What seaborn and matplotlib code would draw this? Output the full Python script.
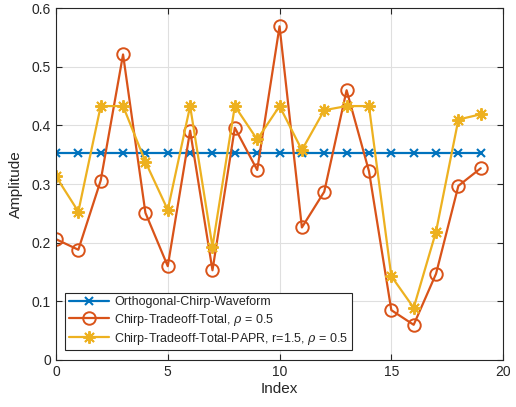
import numpy as np
import matplotlib
matplotlib.use("Agg")
import matplotlib.pyplot as plt
import seaborn as sns

index = list(range(20))
orthogonal = [0.3536] * 20
tradeoff = [0.206, 0.188, 0.306, 0.521, 0.251, 0.160, 0.391, 0.153, 0.396, 0.324,
            0.569, 0.226, 0.287, 0.460, 0.322, 0.085, 0.060, 0.147, 0.297, 0.327]
tradeoff_papr = [0.313, 0.253, 0.433, 0.433, 0.338, 0.256, 0.433, 0.193, 0.433, 0.376,
                 0.433, 0.358, 0.426, 0.433, 0.433, 0.143, 0.089, 0.219, 0.410, 0.419]
labels = ["Orthogonal-Chirp-Waveform",
          r"Chirp-Tradeoff-Total, $\rho$ = 0.5",
          r"Chirp-Tradeoff-Total-PAPR, r=1.5, $\rho$ = 0.5"]
xticks = [0, 5, 10, 15, 20]
yticks = [0, 0.1, 0.2, 0.3, 0.4, 0.5, 0.6]

sns.set_style("ticks")
plt.rcParams['font.family'] = ['Liberation Sans', 'DejaVu Sans']
plt.rcParams['mathtext.fontset'] = 'dejavuserif'

fig = plt.figure(figsize=(5.16, 4.07), dpi=100)
ax = fig.add_axes([0.1085, 0.1155, 0.975 - 0.1085, 0.980 - 0.1155])

blue, red, yellow = "#0072BD", "#D95319", "#EDB120"
sns.lineplot(x=index, y=orthogonal, ax=ax, color=blue, marker="x", markersize=6,
             markeredgecolor=blue, markeredgewidth=1.5, linewidth=1.6, label=labels[0])
sns.lineplot(x=index, y=tradeoff, ax=ax, color=red, marker="o", markersize=9,
             markerfacecolor="none", markeredgecolor=red, markeredgewidth=1.4,
             linewidth=1.6, label=labels[1])
sns.lineplot(x=index, y=tradeoff_papr, ax=ax, color=yellow, marker=(8, 2, 0), markersize=9,
             markeredgecolor=yellow, markeredgewidth=1.4, linewidth=1.6, label=labels[2])

ax.set_xlim(0, 20)
ax.set_ylim(0, 0.6)
ax.set_xticks(xticks)
ax.set_yticks(yticks)
ax.set_yticklabels(["0", "0.1", "0.2", "0.3", "0.4", "0.5", "0.6"])
ax.grid(True, color="#dfdfdf", linewidth=0.8)
ax.set_axisbelow(True)
for s in ax.spines.values():
    s.set_visible(True)
    s.set_color("#262626")
    s.set_linewidth(0.8)
ax.tick_params(direction="in", top=True, right=True, length=4, labelsize=10,
               colors="#262626", width=0.8)
ax.set_xlabel("Index", fontsize=11, color="#262626", labelpad=2)
ax.set_ylabel("Amplitude", fontsize=11, color="#262626", labelpad=6)

leg = ax.legend(loc="lower left", bbox_to_anchor=(0.015, 0.02), fontsize=9,
                frameon=True, fancybox=False, edgecolor="#262626", framealpha=1,
                borderpad=0.3, labelspacing=0.25, handlelength=3.2, handletextpad=0.4,
                borderaxespad=0.2)
leg.get_frame().set_linewidth(0.8)

fig.savefig("out.png", dpi=100)
